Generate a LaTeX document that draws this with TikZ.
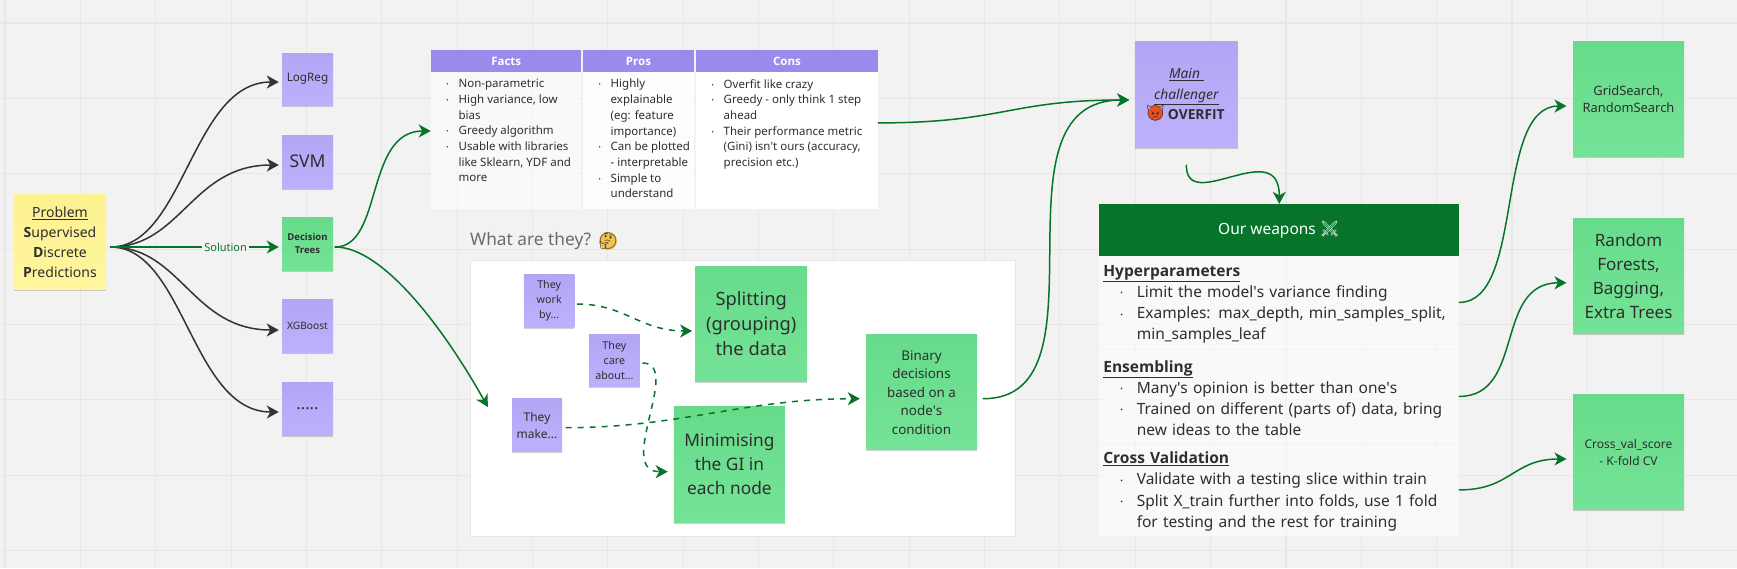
\documentclass[tikz,border=0pt]{standalone}
\usepackage{fontspec}
\usetikzlibrary{arrows.meta,shadows,calc}
\setmainfont{Noto Sans}
\newfontfamily\osans{Open Sans}
\newfontfamily\emojifont{Noto Emoji}
\definecolor{bgc}{HTML}{F2F2F2}
\definecolor{gridc}{HTML}{E7E7E7}
\definecolor{inkc}{HTML}{2E2E2E}
\definecolor{dgreen}{HTML}{067529}
\definecolor{linedark}{HTML}{333333}
\definecolor{greentop}{HTML}{67DB8B}
\definecolor{greenbot}{HTML}{75E397}
\definecolor{purtop}{HTML}{B3A5F5}
\definecolor{purbot}{HTML}{BDB1FB}
\definecolor{yeltop}{HTML}{FDF190}
\definecolor{yelbot}{HTML}{FFF69E}
\definecolor{headpur}{HTML}{9B8AEC}
\definecolor{faceyel}{HTML}{F2C14E}
\definecolor{devilred}{HTML}{E8501F}
\newcommand{\setfs}[2]{\fontsize{#1}{#2}\selectfont}
\newcommand{\bt}[1]{{\osans\bfseries #1}}
\newcommand{\cellbox}[2]{\parbox[c][136.7pt][t]{#1}{\leftskip=15.5pt\rightskip=0pt plus 1fil\parindent=0pt\vspace*{7pt}#2}}
\newcommand{\tb}{\leavevmode\hbox to 12.2pt{\raisebox{1pt}{\setfs{6}{6}•}\hss}}
\newcommand{\tn}{\leavevmode\hbox to 12.2pt{\hss}}
\newcommand{\wh}[1]{\rule{0pt}{15pt}\bt{\underline{#1}}}
\newcommand{\wb}{\leavevmode\hspace*{17pt}\hbox to 16.4pt{\raisebox{1.5pt}{\setfs{7}{7}•}\hss}}
\newcommand{\wn}{\leavevmode\hspace*{33.4pt}}
\newcommand{\ap}{\textquotesingle}
\tikzset{
  softshadow/.style={drop shadow={shadow xshift=0pt,shadow yshift=-1.5pt,opacity=.18,fill=black}},
  sticky/.style={rectangle,inner sep=0pt,align=center,text=inkc,softshadow},
  gsticky/.style={sticky,top color=greentop,bottom color=greenbot},
  psticky/.style={sticky,top color=purtop,bottom color=purbot},
  ysticky/.style={sticky,top color=yeltop,bottom color=yelbot},
  conn/.style={-{Stealth[length=12pt,width=13pt,inset=3.5pt]},line width=1.5pt,line cap=round},
  gconn/.style={conn,draw=dgreen},
  kconn/.style={conn,draw=linedark},
  dconn/.style={gconn,dash pattern=on 6pt off 6pt,line cap=butt},
  headcell/.style={rectangle,fill=headpur,text=white,inner sep=0pt,font=\setfs{11.5}{14}\osans\bfseries,minimum height=21.5pt},
  bodycell/.style={rectangle,inner sep=0pt,text=inkc,font=\setfs{11.5}{15.7},text opacity=1},
  weaponrow/.style={rectangle,fill=white,fill opacity=.6,text opacity=1,text=inkc,inner xsep=4.6pt,inner ysep=0pt,minimum width=360.3pt,text width=351.1pt,align=left,font=\setfs{15.5}{21.2}},
}
\begin{document}
\begin{tikzpicture}[x=1pt,y=-1pt]
\useasboundingbox (0,0) rectangle (1737,568);
\fill[bgc] (0,0) rectangle (1737,568);
% grid
\foreach \i in {0,...,23} \draw[gridc,line width=1.1pt] ({5+75.35*\i},0) -- ({5+75.35*\i},568);
\foreach \i in {0,...,7} \draw[gridc,line width=1.1pt] (0,{23+75.35*\i}) -- (1737,{23+75.35*\i});

% left column
\node[ysticky,minimum width=92pt,minimum height=95.5pt,font=\setfs{14}{20}] (prob) at (60,242.2) {\underline{Problem}\\\bt{S}upervised\\\bt{D}iscrete\\\bt{P}redictions};
\node[psticky,minimum width=51pt,minimum height=52pt,font=\setfs{11.7}{14}] (logreg) at (307.5,79) {LogReg};
\node[psticky,minimum width=51pt,minimum height=53pt,font=\setfs{17.5}{20}] (svm) at (307.5,161.5) {SVM};
\node[gsticky,minimum width=51pt,minimum height=53pt,font=\setfs{9.5}{13.4}\osans\bfseries] (dt) at (307.5,243.5) {Decision\\Trees};
\node[psticky,minimum width=51pt,minimum height=52.5pt,font=\setfs{10.2}{14}] (xgb) at (307.5,326.2) {XGBoost};
\node[psticky,minimum width=51pt,minimum height=53pt,font=\setfs{16.5}{20}] (more) at (307.5,409) {.....};

% table
\node[headcell,minimum width=150.5pt] (hfacts) at (506.2,61) {Facts};
\node[headcell,minimum width=111pt] (hpros) at (638.5,61) {Pros};
\node[headcell,minimum width=182pt] (hcons) at (787,61) {Cons};
\node[bodycell,fill=white,fill opacity=.55] (facts) at (506.2,140.6) {\cellbox{150.5pt}{\tb Non-parametric\\\tb High variance, low\\\tn bias\\\tb Greedy algorithm\\\tb Usable with libraries\\\tn like Sklearn, YDF and\\\tn more}};
\node[bodycell,fill=white,fill opacity=.9] (pros) at (638.5,140.6) {\cellbox{111pt}{\tb Highly\\\tn explainable\\\tn (eg: feature\\\tn importance)\\\tb Can be plotted\\\tn - interpretable\\\tb Simple to\\\tn understand}};
\node[bodycell,fill=white] (cons) at (787,140.6) {\cellbox{182pt}{\tb Overfit like crazy\\\tb Greedy - only think 1 step\\\tn ahead\\\tb Their performance metric\\\tn (Gini) isn\ap t ours (accuracy,\\\tn precision etc.)}};

% what are they panel
\node[anchor=west,inner sep=0pt,text=black!58,font=\setfs{17.3}{20}] (what) at (470,241) {What are they?};
\node[circle,fill=faceyel,inner sep=0pt,minimum size=18pt] (faceback) at (608,241) {};
\node[inner sep=0pt,font=\emojifont\setfs{16}{16},text=black!80] (thinkface) at (faceback) {🤔};
\node[rectangle,fill=white,draw=gridc,line width=.6pt,minimum width=545.6pt,minimum height=276pt,inner sep=0pt] (panel) at (742.8,398.7) {};
\node[psticky,minimum width=50.5pt,minimum height=53pt,font=\setfs{10.7}{14.7}] (work) at (549.2,300.8) {They\\work\\by...};
\node[psticky,minimum width=50.8pt,minimum height=52.4pt,font=\setfs{10.7}{14.7}] (care) at (614.4,360.5) {They\\care\\about...};
\node[psticky,minimum width=50pt,minimum height=53pt,font=\setfs{12}{16.7}] (make) at (537,425.2) {They\\make...};
\node[gsticky,minimum width=111.7pt,minimum height=115.4pt,font=\setfs{18.3}{25}] (split) at (751.2,324) {Splitting\\(grouping)\\the data};
\node[gsticky,minimum width=111pt,minimum height=115.3pt,font=\setfs{17.3}{24}] (minim) at (729.4,464.4) {Minimising\\the GI in\\each node};
\node[gsticky,minimum width=111pt,minimum height=115pt,font=\setfs{13.4}{18.5}] (binary) at (921.5,392.2) {Binary\\decisions\\based on a\\node\ap s\\condition};

% main challenger
\node[psticky,minimum width=102.7pt,minimum height=106pt,font=\setfs{13.8}{20.7}] (main) at (1186.3,94) {\textit{\underline{Main\ }}\\\textit{\underline{challenger}}\\\hspace*{20pt}\bt{OVERFIT}};
\node[circle,fill=devilred,inner sep=0pt,minimum size=15pt] (devilback) at (1155.5,113) {};
\node[inner sep=0pt,font=\emojifont\setfs{15}{15},text=black!85] (devil) at (devilback) {👿};

% weapons
\node[rectangle,fill=dgreen,text=white,minimum width=360.3pt,minimum height=51.7pt,inner sep=0pt,font=\setfs{15.5}{20}] (whead) at (1278.9,229.9) {Our weapons {\emojifont\color{black!12}⚔}};
\node[weaponrow,minimum height=93.3pt] (hyper) at (1278.9,302.4) {\wh{Hyperparameters}\\\wb Limit the model\ap s variance finding\\\wb Examples: max\_depth, min\_samples\_split,\\\wn min\_samples\_leaf};
\node[weaponrow,minimum height=93.3pt] (ens) at (1278.9,396.4) {\wh{Ensembling}\\\wb Many\ap s opinion is better than one\ap s\\\wb Trained on different (parts of) data, bring\\\wn new ideas to the table};
\node[weaponrow,minimum height=92.3pt] (cross) at (1278.9,489.9) {\wh{Cross Validation}\\\wb Validate with a testing slice within train\\\wb Split X\_train further into folds, use 1 fold\\\wn for testing and the rest for training};

% right column
\node[gsticky,minimum width=111pt,minimum height=114.7pt,font=\setfs{12.9}{17}] (grid) at (1628.5,98.7) {GridSearch,\\RandomSearch};
\node[gsticky,minimum width=111pt,minimum height=115pt,font=\setfs{17}{24}] (rf) at (1628.5,275.8) {Random\\Forests,\\Bagging,\\Extra Trees};
\node[gsticky,minimum width=111pt,minimum height=115pt,font=\setfs{12}{17}] (cv) at (1628.5,452.2) {Cross\_val\_score\\- K-fold CV};

% connectors
\draw[kconn,shorten <=4.5pt,shorten >=3pt] ([yshift=-4.8pt]prob.east) .. controls +(78,0) and +(-90,0) .. ([yshift=-3pt]logreg.west);
\draw[kconn,shorten <=4.5pt,shorten >=3pt] ([yshift=-4.8pt]prob.east) .. controls +(75,0) and +(-90,0) .. ([yshift=-3.5pt]svm.west);
\draw[kconn,shorten <=4.5pt,shorten >=3pt] ([yshift=-4.8pt]prob.east) .. controls +(75,0) and +(-90,0) .. ([yshift=-3.8pt]xgb.west);
\draw[kconn,shorten <=4.5pt,shorten >=3pt] ([yshift=-4.8pt]prob.east) .. controls +(78,0) and +(-90,0) .. ([yshift=-3pt]more.west);
\draw[gconn,shorten <=4.5pt,shorten >=3pt] ([yshift=-4.8pt]prob.east) -- node[fill=bgc,inner xsep=2.5pt,inner ysep=1pt,text=dgreen,font=\setfs{11}{12},pos=.68] (sol) {Solution} ([yshift=-3.5pt]dt.west);
\draw[gconn,shorten <=2pt] ([yshift=-3.5pt]dt.east) .. controls +(50,0) and +(-66,0) .. ([yshift=9.6pt]facts.west);
\draw[gconn,shorten <=2pt] ([yshift=-3.5pt]dt.east) .. controls +(50,0) and +(-43,-77) .. ([xshift=-24pt,yshift=18.2pt]make.west);
\draw[dconn,shorten <=2.5pt,shorten >=3pt] ([yshift=-3.2pt]work.east) .. controls +(50,0) and +(-55,0) .. ([yshift=-7pt]split.west);
\draw[dconn,shorten <=2.5pt,shorten >=6pt] ([yshift=-2.5pt]care.east) .. controls +(43,0) and +(-59,0) .. ([yshift=-7.3pt]minim.west);
\draw[dconn,shorten <=3.5pt,shorten >=6pt] ([yshift=-2.5pt]make.east) .. controls +(118,0) and +(-121,0) .. ([yshift=-6.5pt]binary.west);
\draw[gconn,shorten <=6pt,shorten >=5.5pt] ([yshift=-6.5pt]binary.east) .. controls +(138,0) and +(-152,0) .. ([yshift=-6pt]main.west);
\draw[gconn,shorten >=5.5pt] ([yshift=17.7pt]cons.east) .. controls +(125,0) and +(-125,0) .. ([yshift=-6pt]main.west);
\draw[gconn,shorten <=18pt] (main.south) .. controls +(0,68) and +(0,-69) .. ([xshift=0.4pt]whead.north);
\draw[gconn,shorten >=6.3pt] (hyper.east) .. controls +(66,0) and +(-79,0) .. ([yshift=-7.3pt]grid.west);
\draw[gconn,shorten >=6.3pt] (ens.east) .. controls +(66,0) and +(-79,0) .. ([yshift=-7pt]rf.west);
\draw[gconn,shorten >=6.3pt] (cross.east) .. controls +(52,0) and +(-60,0) .. ([yshift=-6.8pt]cv.west);
\end{tikzpicture}
\end{document}
